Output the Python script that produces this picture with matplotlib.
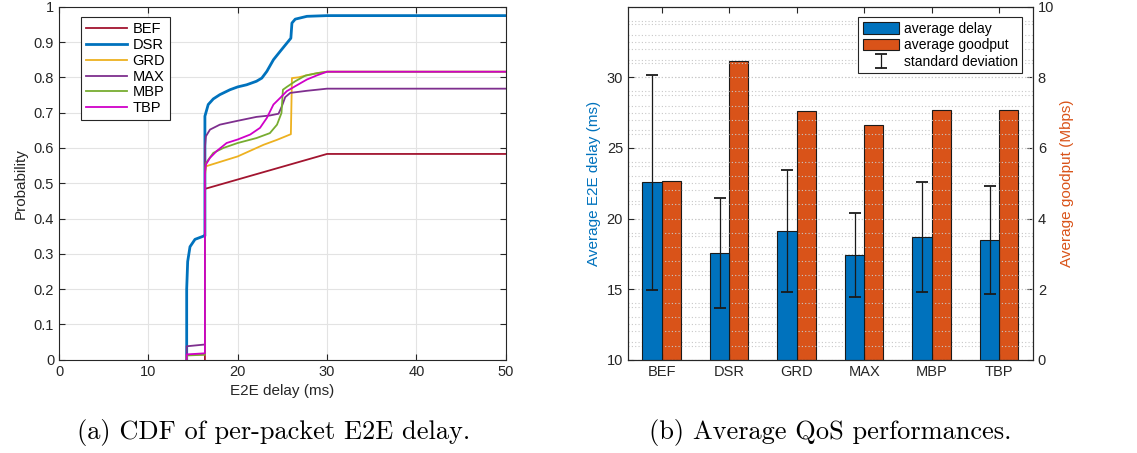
import matplotlib.pyplot as plt
import numpy as np
from matplotlib.ticker import MultipleLocator

plt.rcParams['font.family'] = ['Liberation Sans', 'DejaVu Sans']

# ---- (a) CDF of per-packet E2E delay ----
bef_x = [16.33, 16.33, 30.0, 50.0]
bef_y = [0.0, 0.484, 0.583, 0.583]

dsr_x = [14.29, 14.29, 14.4, 14.66, 15.22, 16.16, 16.33, 16.33, 16.7, 17.27, 18.0, 19.14, 20.0, 21.0,
         22.1, 22.7, 23.26, 24.0, 24.76, 25.5, 25.95, 26.07, 26.44, 27.75, 30.0, 50.0]
dsr_y = [0.0, 0.20, 0.278, 0.32, 0.341, 0.350, 0.351, 0.690, 0.723, 0.739, 0.751, 0.765, 0.773, 0.779,
         0.789, 0.798, 0.817, 0.850, 0.874, 0.897, 0.911, 0.954, 0.965, 0.973, 0.975, 0.975]

grd_x = [14.29, 14.29, 16.33, 16.33, 16.44, 20.0, 22.9, 24.4, 25.95, 26.07, 26.8, 27.75, 28.9, 30.0, 50.0]
grd_y = [0.0, 0.013, 0.015, 0.52, 0.548, 0.576, 0.609, 0.623, 0.639, 0.798, 0.800, 0.806, 0.812, 0.816, 0.816]

max_x = [14.29, 14.29, 16.33, 16.33, 16.44, 16.9, 18.0, 20.0, 22.1, 23.6, 24.57, 24.94, 25.32, 25.88,
         27.75, 30.0, 50.0]
max_y = [0.0, 0.038, 0.043, 0.60, 0.633, 0.652, 0.666, 0.677, 0.688, 0.692, 0.697, 0.718, 0.744, 0.756,
         0.762, 0.768, 0.768]

mbp_x = [14.29, 14.29, 16.33, 16.33, 16.44, 17.27, 18.4, 20.0, 22.1, 23.6, 24.4, 24.9, 25.06, 25.5,
         26.44, 27.57, 28.9, 30.0, 50.0]
mbp_y = [0.0, 0.012, 0.014, 0.53, 0.557, 0.586, 0.600, 0.614, 0.628, 0.642, 0.666, 0.699, 0.765, 0.773,
         0.789, 0.805, 0.812, 0.816, 0.816]

tbp_x = [14.29, 14.29, 16.33, 16.33, 16.44, 16.9, 17.64, 18.76, 20.0, 21.4, 22.5, 23.26, 24.0, 24.76,
         25.5, 26.44, 27.75, 28.9, 30.0, 50.0]
tbp_y = [0.0, 0.015, 0.018, 0.53, 0.553, 0.572, 0.591, 0.614, 0.624, 0.638, 0.657, 0.685, 0.723, 0.742,
         0.761, 0.775, 0.794, 0.806, 0.816, 0.816]

# ---- (b) Average QoS performances ----
schemes = ['BEF', 'DSR', 'GRD', 'MAX', 'MBP', 'TBP']
avg_delay = [22.56, 17.55, 19.12, 17.41, 18.68, 18.48]
std_delay = [7.62, 3.88, 4.34, 2.99, 3.92, 3.80]
avg_goodput = [5.05, 8.45, 7.05, 6.65, 7.07, 7.07]

blue = '#0072BD'
orange = '#D95319'
txt = '#262626'

fig = plt.figure(figsize=(11.37, 4.53), dpi=100)

ax1 = fig.add_axes([0.0519, 0.206, 0.3929, 0.779])
curves = [('BEF', bef_x, bef_y, '#A2142F', 1.3),
          ('DSR', dsr_x, dsr_y, blue, 2.0),
          ('GRD', grd_x, grd_y, '#EDB120', 1.3),
          ('MAX', max_x, max_y, '#7E2F8E', 1.3),
          ('MBP', mbp_x, mbp_y, '#77AC30', 1.3),
          ('TBP', tbp_x, tbp_y, '#D000C8', 1.3)]
for name, xs, ys, c, lw in curves:
    ax1.plot(xs, ys, color=c, lw=lw, label=name)
ax1.set_xlim(0, 50)
ax1.set_ylim(0, 1)
ax1.set_xticks(np.arange(0, 51, 10))
ax1.set_yticks(np.arange(0, 1.01, 0.1))
ax1.set_yticklabels(['0'] + [f'{v:.1f}' for v in np.arange(0.1, 0.95, 0.1)] + ['1'])
ax1.grid(True, color='#e3e3e3', lw=0.8)
ax1.set_axisbelow(True)
ax1.tick_params(direction='in', top=True, right=True, labelsize=10.5, colors=txt, length=4)
for s in ax1.spines.values():
    s.set_color(txt)
    s.set_linewidth(0.8)
ax1.set_xlabel('E2E delay (ms)', fontsize=11, color=txt)
ax1.set_ylabel('Probability', fontsize=11, color=txt)
leg1 = ax1.legend(loc='upper left', bbox_to_anchor=(0.049, 0.97), borderaxespad=0, fontsize=10.5,
                  handlelength=2.8, handletextpad=0.4, labelspacing=0.12, borderpad=0.35,
                  fancybox=False, edgecolor=txt, framealpha=1)
leg1.get_frame().set_linewidth(0.8)

# right panel
ax2 = fig.add_axes([0.5523, 0.206, 0.3562, 0.779])
ax3 = ax2.twinx()
xpos = np.arange(1, len(schemes) + 1)
bw = 0.285
b1 = ax2.bar(xpos - bw / 2, np.array(avg_delay) - 10, bw, bottom=10, color=blue, edgecolor='#1a1a1a',
             lw=0.8, label='average delay', zorder=2)
eb = ax2.errorbar(xpos - bw / 2, avg_delay, yerr=std_delay, fmt='none', ecolor='#1a1a1a', elinewidth=0.9,
                  capsize=4, capthick=1.3, label='standard deviation', zorder=4)
b2 = ax3.bar(xpos + bw / 2, avg_goodput, bw, color=orange, edgecolor='#1a1a1a', lw=0.8,
             label='average goodput', zorder=2)
ax2.set_xlim(0.5, 6.5)
ax2.set_ylim(10, 35)
ax3.set_ylim(0, 10)
ax2.set_xticks(xpos)
ax2.set_xticklabels(schemes)
ax2.set_yticks([10, 15, 20, 25, 30])
ax3.set_yticks([0, 2, 4, 6, 8, 10])
ax2.yaxis.set_minor_locator(MultipleLocator(1))
ax3.yaxis.set_minor_locator(MultipleLocator(0.5))
ax2.grid(True, axis='y', which='both', color='#c8c8c8', ls=(0, (1, 2)), lw=0.8)
ax3.grid(True, axis='y', which='both', color='#c8c8c8', ls=(0, (1, 2)), lw=0.8)
ax2.set_axisbelow(True)
ax3.set_axisbelow(True)
ax2.set_zorder(ax3.get_zorder() + 1)
ax2.patch.set_visible(False)
ax2.tick_params(direction='in', top=True, labelsize=10.5, colors=txt, length=4)
ax2.tick_params(which='minor', length=0)
ax3.tick_params(direction='in', labelsize=10.5, colors=txt, length=4)
ax3.tick_params(which='minor', length=0)
for a in (ax2, ax3):
    for s in a.spines.values():
        s.set_color(txt)
        s.set_linewidth(0.8)
ax2.set_ylabel('Average E2E delay (ms)', fontsize=11, color=blue)
ax3.set_ylabel('Average goodput (Mbps)', fontsize=11, color=orange)
leg2 = ax2.legend([b1, b2, eb], ['average delay', 'average goodput', 'standard deviation'],
                  loc='upper right', bbox_to_anchor=(0.974, 0.97), borderaxespad=0, fontsize=10,
                  handlelength=2.6, handleheight=0.9, handletextpad=0.4, labelspacing=0.2,
                  borderpad=0.3, fancybox=False, edgecolor=txt, framealpha=1)
leg2.get_frame().set_linewidth(0.8)

fig.text(0.2405, 0.045, '(a) CDF of per-packet E2E delay.', family=['cmr10', 'DejaVu Serif'],
         fontsize=19, ha='center', va='center')
fig.text(0.7304, 0.045, '(b) Average QoS performances.', family=['cmr10', 'DejaVu Serif'],
         fontsize=19, ha='center', va='center')

fig.savefig('out.png', dpi=100)
